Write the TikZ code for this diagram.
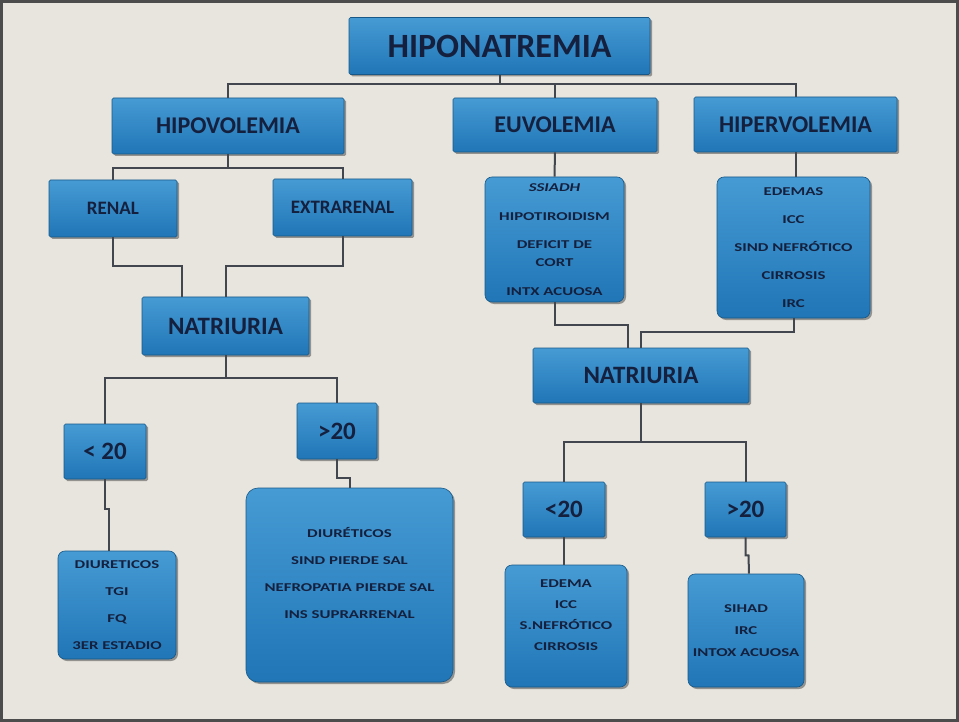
\documentclass[tikz,border=0pt]{standalone}
\usepackage{fontspec}
\setmainfont{Carlito}
\newfontfamily\notefont{Carlito}[FakeStretch=1.4]
\usetikzlibrary{shadows}
\definecolor{bg}{RGB}{231,229,221}
\definecolor{boxtop}{RGB}{70,155,212}
\definecolor{boxbot}{RGB}{32,118,182}
\definecolor{ink}{RGB}{20,32,62}
\definecolor{wire}{RGB}{66,70,78}

\begin{document}
\begin{tikzpicture}[x=1pt,y=-1pt,
	box/.style={draw=boxbot!75!black, line width=0.6pt, top color=boxtop, bottom color=boxbot,
		text=ink, align=center, inner sep=0pt,
		drop shadow={shadow xshift=2pt, shadow yshift=-2pt, opacity=.5, fill=black!75}},
	size/.style 2 args={minimum width=#1, minimum height=#2},
	head/.style={box, rounded corners=1.5pt},
	note/.style={box, rounded corners=7pt, font=\notefont\bfseries\fontsize{12}{14}\selectfont},
	wire/.style={draw=wire, line width=2pt}]
	\fill[bg] (0,0) rectangle (959,722);
	\draw[black!70, line width=3pt] (1.5,1.5) rectangle (957.5,720.5);
	\useasboundingbox (0,0) rectangle (959,722);

	\node[head, size={301pt}{57pt}, font=\bfseries\fontsize{34}{40}\selectfont] (hn) at (499.5,46) {HIPONATREMIA};
	\node[head, size={232pt}{56pt}, font=\bfseries\fontsize{24}{30}\selectfont] (hipo) at (228,126) {HIPOVOLEMIA};
	\node[head, size={204pt}{54pt}, font=\bfseries\fontsize{24}{30}\selectfont] (euvo) at (555,125) {EUVOLEMIA};
	\node[head, size={203pt}{55pt}, font=\bfseries\fontsize{24}{30}\selectfont] (hiper) at (795.5,124.5) {HIPERVOLEMIA};
	\node[head, size={128pt}{57pt}, font=\bfseries\fontsize{19}{22}\selectfont] (renal) at (113,208.5) {RENAL};
	\node[head, size={139pt}{57pt}, font=\bfseries\fontsize{19}{22}\selectfont] (extra) at (342.5,207.5) {EXTRARENAL};
	\node[head, size={167pt}{58pt}, font=\bfseries\fontsize{25}{30}\selectfont] (nat1) at (225.5,326) {NATRIURIA};
	\node[head, size={216pt}{55pt}, font=\bfseries\fontsize{25}{30}\selectfont] (nat2) at (641,375.5) {NATRIURIA};
	\node[head, size={82pt}{55pt}, font=\bfseries\fontsize{25}{30}\selectfont] (lt1) at (105,451.5) {< 20};
	\node[head, size={80pt}{56pt}, font=\bfseries\fontsize{25}{30}\selectfont] (gt1) at (337,431) {>20};
	\node[head, size={82pt}{55pt}, font=\bfseries\fontsize{25}{30}\selectfont] (lt2) at (564,509.5) {<20};
	\node[head, size={81pt}{55pt}, font=\bfseries\fontsize{25}{30}\selectfont] (gt2) at (745.5,509.5) {>20};

	\node[note, size={139pt}{125pt}] (ssiadh) at (554.5,239.5)
		{{\itshape SSIADH}\\[15pt]HIPOTIROIDISM\\[14pt]DEFICIT DE\\[4pt]CORT\\[15pt]INTX ACUOSA};
	\node[note, size={153pt}{141pt}] (edemas) at (793.5,247.5)
		{EDEMAS\\[14pt]ICC\\[14pt]SIND NEFRÓTICO\\[14pt]CIRROSIS\\[14pt]IRC};
	\node[note, size={118pt}{108pt}] (dl) at (117,605)
		{DIURETICOS\\[13pt]TGI\\[13pt]FQ\\[13pt]3ER ESTADIO};
	\node[note, size={207pt}{194pt}, rounded corners=12pt] (big) at (349.5,585)
		{DIURÉTICOS\\[13pt]SIND PIERDE SAL\\[13pt]NEFROPATIA PIERDE SAL\\[13pt]INS SUPRARRENAL\\[10pt]\mbox{}};
	\node[note, size={122pt}{122pt}] (ed2) at (566,626)
		{EDEMA\\[7pt]ICC\\[7pt]S.NEFRÓTICO\\[7pt]CIRROSIS\\[8pt]\mbox{}};
	\node[note, size={116pt}{113pt}] (si2) at (746,630.5)
		{SIHAD\\[8pt]IRC\\[8pt]INTOX ACUOSA};

	\coordinate (j1) at (499.5,84);
	\coordinate (j2) at (228,168);
	\coordinate (j3) at (225.5,378);
	\coordinate (j4) at (641,442);
	\coordinate (r1) at (182,266);
	\coordinate (e1) at (225.5,266);
	\coordinate (s1) at (628,325);
	\coordinate (h1) at (641,332);

	\draw[wire] (hn.south) -- (j1) -| (hipo.north);
	\draw[wire] (j1) -| (euvo.north);
	\draw[wire] (j1) -| (hiper.north);
	\draw[wire] (hipo.south) -- (j2) -| (renal.north);
	\draw[wire] (j2) -| (extra.north);
	\draw[wire] (renal.south) |- (r1) -- (r1 |- nat1.north);
	\draw[wire] (extra.south) |- (e1) -- (nat1.north);
	\draw[wire] (euvo.south) -- (ssiadh.north);
	\draw[wire] (hiper.south) -- (hiper.south |- edemas.north);
	\draw[wire] (ssiadh.south) |- (s1) -- (s1 |- nat2.north);
	\draw[wire] (edemas.south) |- (h1) -- (nat2.north);
	\draw[wire] (nat1.south) -- (j3) -| (lt1.north);
	\draw[wire] (j3) -| (gt1.north);
	\draw[wire] (nat2.south) -- (j4) -| (lt2.north);
	\draw[wire] (j4) -| (gt2.north);
	\draw[wire] (lt1.south) -- ++(0,30) -- ++(4,0) -- ([xshift=-8pt]dl.north);
	\draw[wire] (gt1.south) -- ++(0,19) -| (big.north);
	\draw[wire] (lt2.south) -- (lt2.south |- ed2.north);
	\draw[wire] (gt2.south) -- ++(0,18) -- ++(3,0) -- ([xshift=3pt]si2.north);
\end{tikzpicture}
\end{document}
